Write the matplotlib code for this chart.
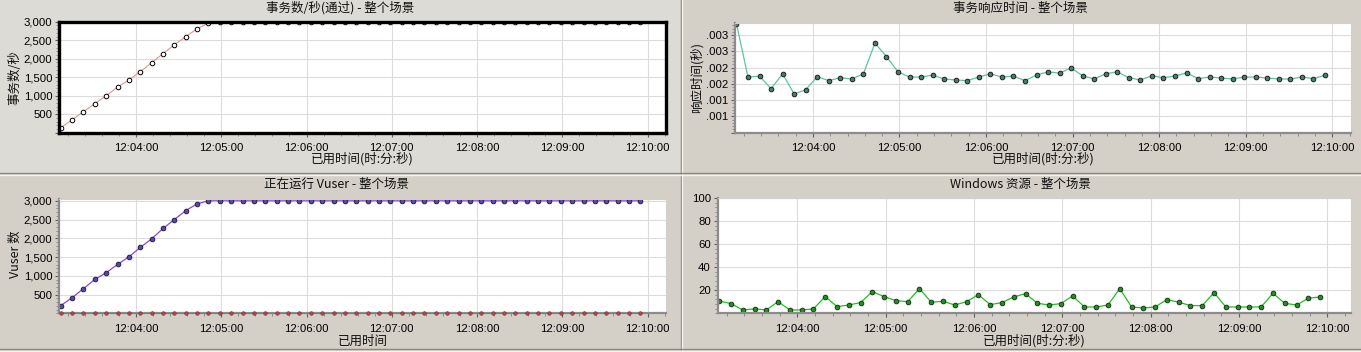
import numpy as np
import matplotlib.pyplot as plt
from matplotlib.ticker import FixedLocator, MultipleLocator, FuncFormatter
from matplotlib.patches import Rectangle

W, H = 1361, 352
CJK = ['Noto Sans CJK SC', 'DejaVu Sans']
plt.rcParams['font.family'] = ['Liberation Sans', 'DejaVu Sans']

# sample times: seconds since midnight, one sample every 8 s from 12:03:07
t_start = 12*3600 + 3*60 + 7
times = t_start + 8*np.arange(52)

# transactions / second (passed)
tps = [130, 351, 568, 784, 1000, 1235, 1424, 1649, 1892, 2135, 2378, 2595, 2811, 2960] + [2995]*38

# transaction response time (s)
resp = [0.00335, 0.00171, 0.00174, 0.00135, 0.00181, 0.00119, 0.00132, 0.00172, 0.00160, 0.00169,
        0.00165, 0.00181, 0.00275, 0.00234, 0.00187, 0.00171, 0.00171, 0.00177, 0.00165, 0.00162,
        0.00160, 0.00171, 0.00181, 0.00171, 0.00174, 0.00160, 0.00177, 0.00187, 0.00183, 0.00199,
        0.00175, 0.00165, 0.00181, 0.00187, 0.00169, 0.00162, 0.00175, 0.00169, 0.00174, 0.00184,
        0.00166, 0.00171, 0.00168, 0.00165, 0.00171, 0.00171, 0.00168, 0.00165, 0.00165, 0.00171,
        0.00166, 0.00177]

# running vusers
vusers = [204, 417, 656, 904, 1082, 1303, 1507, 1755, 1986, 2261, 2500, 2739, 2917, 3000] + [3000]*38
vusers_zero = [0]*52

# windows resources
winres = [10.7, 8.4, 2.9, 3.8, 2.9, 10.1, 2.9, 2.9, 3.8, 14.5,
          5.8, 7.2, 9.3, 18.8, 14.5, 11.0, 10.1, 21.4, 9.6, 10.4,
          7.2, 10.1, 16.2, 7.5, 9.3, 14.2, 17.1, 8.7, 7.2, 8.4,
          15.1, 5.5, 5.5, 7.2, 21.4, 5.5, 4.6, 5.5, 11.9, 9.6,
          6.7, 6.7, 18.0, 5.5, 5.5, 5.5, 5.5, 17.4, 8.7, 7.2,
          13.0, 14.2]

major_times = 12*3600 + 60*np.arange(4, 11)


def hms(s, pos=None):
    s = int(round(s))
    return "%d:%02d:%02d" % (s//3600, (s % 3600)//60, s % 60)


def fx(x):
    return x / W


def fy(y):
    return 1 - y / H


fig = plt.figure(figsize=(W/100, H/100), dpi=100, facecolor='#d4d0c8')

# panel backgrounds / separators (kept behind the axes)
fig.patches.append(Rectangle((0, fy(173)), fx(680), 1 - fy(173), transform=fig.transFigure,
                             facecolor='#dddbd6', edgecolor='none', zorder=-5))
fig.add_artist(plt.Line2D([fx(680.5), fx(680.5)], [0, 1], color='#8a8780', lw=1, transform=fig.transFigure, zorder=-4))
fig.add_artist(plt.Line2D([fx(682), fx(682)], [0, 1], color='#f4f3f0', lw=1, transform=fig.transFigure, zorder=-4))
for yy in (173, 349):
    fig.add_artist(plt.Line2D([0, 1], [fy(yy), fy(yy)], color='#8a8780', lw=1, transform=fig.transFigure, zorder=-4))
    fig.add_artist(plt.Line2D([0, 1], [fy(yy+1.5), fy(yy+1.5)], color='#f4f3f0', lw=1, transform=fig.transFigure, zorder=-4))


def make_axes(l, r, t, b, xlim, selected=False):
    ax = fig.add_axes([fx(l), fy(b), fx(r - l), (b - t) / H])
    ax.set_zorder(2)
    ax.set_facecolor('white')
    ax.set_xlim(*xlim)
    ax.xaxis.set_major_locator(FixedLocator(major_times))
    ax.xaxis.set_minor_locator(MultipleLocator(12))
    ax.xaxis.set_major_formatter(FuncFormatter(hms))
    ax.grid(True, which='major', color='#dcdcdc', lw=0.8)
    ax.set_axisbelow(True)
    ax.tick_params(axis='both', which='major', labelsize=8.2, length=3, width=0.8, color='#606060')
    ax.tick_params(axis='both', which='minor', length=2, width=0.6, color='#808080')
    ax.tick_params(axis='x', which='major', pad=4.5)
    ax.tick_params(axis='y', which='major', pad=2)
    if selected:
        for s in ax.spines.values():
            s.set_color('black')
            s.set_linewidth(2.4)
    else:
        for s in ('left', 'bottom'):
            ax.spines[s].set_color('#8c8c8c')
            ax.spines[s].set_linewidth(1.6)
        for s in ('top', 'right'):
            ax.spines[s].set_color('#d0d0d0')
            ax.spines[s].set_linewidth(0.8)
    return ax


xl_top = (t_start - 1, 12*3600 + 10*60 + 13)
xl_br = (t_start - 1, 12*3600 + 10*60 + 16)

# ---- top left: transactions per second
ax1 = make_axes(59.3, 666, 21.7, 132.7, xl_top, selected=True)
ax1.plot(times, tps, color='#e89090', lw=0.8, marker='o', ms=3.3, mfc='white', mec='black', mew=0.7)
ax1.set_ylim(0, 3000)
ax1.yaxis.set_major_locator(MultipleLocator(500))
ax1.yaxis.set_minor_locator(MultipleLocator(100))
ax1.yaxis.set_major_formatter(FuncFormatter(lambda v, p: '' if v <= 0 else '{:,.0f}'.format(v)))

# ---- top right: response time
ax2 = make_axes(735, 1351, 22.7, 132.7, xl_top)
ax2.plot(times, resp, color='#5cc4a4', lw=0.9, marker='o', ms=3.4, mfc='#4e7a6c', mec='#101010', mew=0.6)
ax2.set_ylim(0, 0.00338)
ax2.yaxis.set_major_locator(MultipleLocator(0.0005))
ax2.yaxis.set_minor_locator(MultipleLocator(0.0001))
ax2.yaxis.set_major_formatter(FuncFormatter(lambda v, p: '' if v <= 1e-9 else ('%.3f' % v)[1:]))

# ---- bottom left: running vusers
ax3 = make_axes(59.3, 666, 198.7, 313.3, xl_top)
ax3.plot(times, vusers_zero, color='#c06060', lw=0.6, marker='o', ms=2.6, mfc='#b04848', mec='#703030', mew=0.4,
         clip_on=False, zorder=3)
ax3.plot(times, vusers, color='#8a48d8', lw=0.9, marker='o', ms=3.4, mfc='#5848a8', mec='#181830', mew=0.6)
ax3.set_ylim(0, 3055)
ax3.yaxis.set_major_locator(FixedLocator([500, 1000, 1500, 2000, 2500, 3000]))
ax3.yaxis.set_minor_locator(MultipleLocator(100))
ax3.yaxis.set_major_formatter(FuncFormatter(lambda v, p: '{:,.0f}'.format(v)))

# ---- bottom right: windows resources
ax4 = make_axes(717.7, 1351, 198, 313.3, xl_br)
ax4.plot(times, winres, color='#22c022', lw=0.9, marker='o', ms=3.4, mfc='#2a8a2a', mec='#0c2a0c', mew=0.6)
ax4.set_ylim(0, 100)
ax4.yaxis.set_major_locator(FixedLocator([20, 40, 60, 80, 100]))
ax4.yaxis.set_minor_locator(MultipleLocator(4))

# titles, axis labels
tk = dict(family=CJK, fontsize=9, ha='center', va='center', color='#111111')
fig.text(fx(340), fy(8), '事务数/秒(通过) - 整个场景', **tk)
fig.text(fx(1020), fy(8), '事务响应时间 - 整个场景', **tk)
fig.text(fx(337), fy(184), '正在运行 Vuser - 整个场景', **tk)
fig.text(fx(1020), fy(184), 'Windows 资源 - 整个场景', **tk)

fig.text(fx(362.6), fy(159), '已用时间(时:分:秒)', **tk)
fig.text(fx(1043), fy(159), '已用时间(时:分:秒)', **tk)
fig.text(fx(362.6), fy(341), '已用时间', **tk)
fig.text(fx(1034), fy(341), '已用时间(时:分:秒)', **tk)

fig.text(fx(15), fy(77.5), '事务数/秒', rotation=90, **tk)
fig.text(fx(697), fy(77.5), '响应时间(秒)', rotation=90, **tk)
fig.text(fx(15), fy(254), 'Vuser 数', rotation=90, **tk)

fig.savefig('out.png', dpi=100, facecolor=fig.get_facecolor())
